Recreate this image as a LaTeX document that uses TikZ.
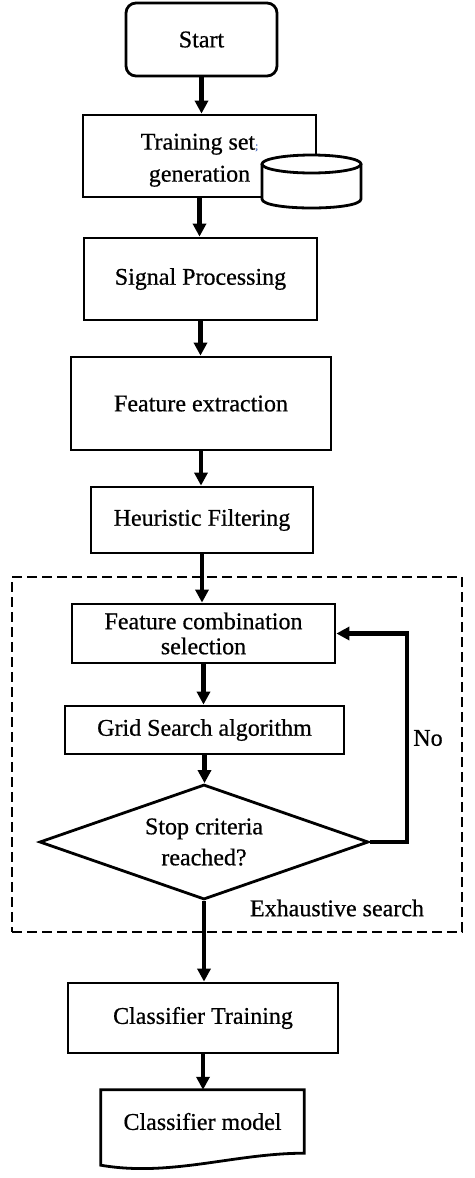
\documentclass[tikz,border=0pt]{standalone}
\usepackage{fontspec}
\setmainfont{Liberation Serif}[FakeBold=0.6]
\usetikzlibrary{shapes.geometric,arrows.meta}
\begin{document}
\begin{tikzpicture}[x=1pt,y=-1pt, font=\fontsize{24}{28}\selectfont,
  box/.style={draw, line width=2.8pt, inner sep=0pt, align=center},
  flow/.style={line width=4.5pt, -{Triangle[length=13pt,width=13pt]}},
]
\useasboundingbox (0,0) rectangle (474,1178);

\node[box, rounded corners=10pt, minimum width=151pt, minimum height=73pt] (start) at (201.5,39.5) {Start};
\node[box, minimum width=233pt, minimum height=82pt] (train) at (199.5,156) {\raisebox{-4pt}[\height][\depth]{\begin{tabular}{@{}c@{}}Training set{\color[HTML]{5070C0}\fontsize{11}{11}\selectfont;}\\[4pt]generation\end{tabular}}};

% database cylinder
\fill[white] (262,164) rectangle (361,199);
\fill[white] (311.5,199) ellipse [x radius=49.5, y radius=9];
\filldraw[fill=white, line width=2.8pt] (311.5,164) ellipse [x radius=49.5, y radius=9];
\draw[line width=2.8pt] (262,164) -- (262,199) .. controls (262,211) and (361,211) .. (361,199) -- (361,164);

\node[box, minimum width=233pt, minimum height=82pt] (sig) at (200.5,279) {Signal Processing};
\node[box, minimum width=260pt, minimum height=93pt] (feat) at (201,403.5) {Feature extraction};
\node[box, minimum width=222pt, minimum height=66pt] (heur) at (202,520) {Heuristic Filtering};

\node[draw, line width=2.6pt, dash pattern=on 10pt off 5pt, inner sep=0pt, minimum width=450pt, minimum height=355pt] (search) at (237,754.5) {};

\node[box, minimum width=263pt, minimum height=59pt] (fcs) at (203.5,633.5) {Feature combination\\[-3pt]selection};
\node[box, minimum width=279pt, minimum height=48pt] (grid) at (204.5,730) {Grid Search algorithm};
\node[diamond, draw, line width=2.8pt, aspect=2.86, minimum width=329pt, minimum height=115pt, inner sep=0pt, align=center] (stop) at (204,842) {Stop criteria\\[3pt]reached?};

\node (no) at (428,738) {No};
\node (exh) at (337,908) {Exhaustive search};

\node[box, minimum width=270pt, minimum height=70pt] (ct) at (203,1018) {Classifier Training};
\node[inner sep=0pt, minimum width=203pt, minimum height=63pt] (cm) at (202.5,1121.5) {Classifier model};
\draw[line width=2.8pt] (cm.north west) -- (cm.north east) -- (cm.south east)
  .. controls +(-70,0) and +(70,12) .. ([yshift=-12pt]cm.south west) -- cycle;

\coordinate (turn) at (407,842);

\draw[flow] (start.south) -- (start.south |- train.north);
\draw[flow] (train.south) -- (train.south |- sig.north);
\draw[flow] (sig.south) -- (sig.south |- feat.north);
\draw[flow] (feat.south) -- (feat.south |- heur.north);
\draw[flow] (heur.south) -- (heur.south |- fcs.north);
\draw[flow] (fcs.south) -- (fcs.south |- grid.north);
\draw[flow] (grid.south) -- (grid.south |- stop.north);
\draw[flow] (stop.south) -- (stop.south |- ct.north);
\draw[flow] (ct.south) -- (ct.south |- cm.north);
\draw[flow] (stop.east) -- (turn) |- (fcs.east);
\end{tikzpicture}
\end{document}
